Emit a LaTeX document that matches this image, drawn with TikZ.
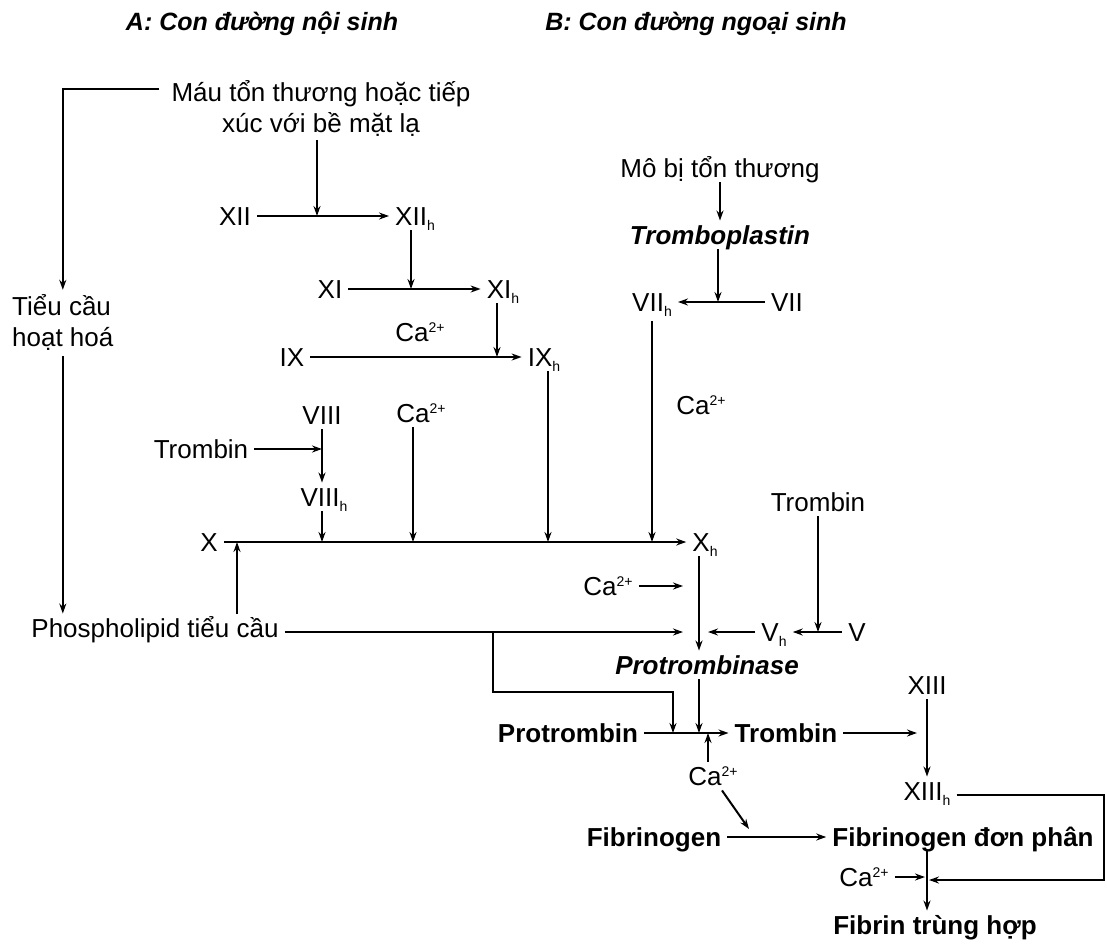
\documentclass[tikz,border=0pt]{standalone}
\usepackage{fontspec}
\setmainfont{Liberation Sans}
\usetikzlibrary{arrows.meta,calc}
\newcommand\fs{\fontsize{26}{31}\selectfont}
\newcommand\sbh{\raisebox{-5pt}{\fontsize{14}{14}\selectfont h}}
\newcommand\CaT{Ca\raisebox{9pt}{\fontsize{14}{14}\selectfont 2+}}
\begin{document}
\begin{tikzpicture}[x=1pt,y=-1pt,
  lb/.style={inner xsep=6pt, inner ysep=5pt, text height=18.5pt, text depth=0pt, font=\fs},
  bd/.style={font=\fs\bfseries},
  bi/.style={font=\fs\bfseries\itshape},
  tt/.style={inner sep=0pt, font=\fontsize{25}{30}\selectfont\bfseries\itshape},
  ml/.style={inner sep=0pt, font=\fs},
  arr/.style={-{Stealth[length=10pt,width=7pt]}, line width=2pt}]
\useasboundingbox (0,0) rectangle (1107,947);
\fill[white] (0,0) rectangle (1107,947);
% titles
\node[tt] (tA) at (262,24) {A: Con đường nội sinh};
\node[tt] (tB) at (696,24) {B: Con đường ngoại sinh};
% nodes
\node[ml, align=center] (mau) at (321,108) {Máu tổn thương hoặc tiếp\\xúc với bề mặt lạ};
\node[ml, align=left, anchor=west] (tc) at (12,322) {Tiểu cầu\\hoạt hoá};
\node[lb] (XII) at (235,216) {XII};
\node[lb] (XIIh) at (415,216) {XII\sbh};
\node[lb] (XI) at (330,289) {XI};
\node[lb] (XIh) at (503,289) {XI\sbh};
\node[lb] (ca1) at (420,332) {\CaT};
\node[lb] (IX) at (292,357) {IX};
\node[lb] (IXh) at (544,357) {IX\sbh};
\node[lb] (mo) at (720,168) {Mô bị tổn thương};
\node[lb, bi] (tp) at (720,235) {Tromboplastin};
\node[lb] (VIIh) at (652,302) {VII\sbh};
\node[lb] (VII) at (787,302) {VII};
\node[lb] (ca2) at (701,405) {\CaT};
\node[lb] (VIII) at (322,415) {VIII};
\node[lb] (tr1) at (201,449) {Trombin};
\node[lb] (VIIIh) at (324,497) {VIII\sbh};
\node[lb] (ca3) at (421,413) {\CaT};
\node[lb] (X) at (209,542) {X};
\node[lb] (Xh) at (705,542) {X\sbh};
\node[lb] (tr2) at (818,502) {Trombin};
\node[lb] (ca4) at (608,586) {\CaT};
\node[lb] (phos) at (155,628) {Phospholipid tiểu cầu};
\node[lb] (Vh) at (774,632) {V\sbh};
\node[lb] (V) at (857,632) {V};
\node[lb, bi] (prb) at (707,665) {Protrombinase};
\node[lb, bd] (ptb) at (568,733) {Protrombin};
\node[lb, bd] (tr3) at (786,733) {Trombin};
\node[lb] (XIII) at (927,685) {XIII};
\node[lb] (ca5) at (713,776) {\CaT};
\node[lb] (XIIIh) at (927,791) {XIII\sbh};
\node[lb, bd] (fg) at (654,837) {Fibrinogen};
\node[lb, bd] (fdp) at (963,837) {Fibrinogen đơn phân};
\node[lb] (ca6) at (864,877) {\CaT};
\node[lb, bd] (fib) at (935,925) {Fibrin trùng hợp};
% junctions
\coordinate (j1) at (317,216);
\coordinate (j2) at (411,289);
\coordinate (j3) at (497,357);
\coordinate (j4) at (718,302);
\coordinate (j5) at (652,542);
\coordinate (j6) at (548,542);
\coordinate (j7) at (237,542);
\coordinate (j8) at (322,449);
\coordinate (j9) at (322,542);
\coordinate (j10) at (413,542);
\coordinate (j11) at (699,632);
\coordinate (j12) at (493,632);
\coordinate (br) at (673,692);
\coordinate (j13) at (673,733);
\coordinate (j14) at (818,632);
\coordinate (j16) at (708,733);
\coordinate (j17) at (925,733);
\coordinate (j18) at (749,829);
\coordinate (c1) at (1104,880);
\coordinate (j19) at (927,880);
% connectors
\draw[arr, shorten >=4pt] ($(mau.west)+(-12,-19)$) -| (tc.north);
\draw[arr, shorten <=6pt] (tc.south) -- (tc.south |- phos.north);
\draw[arr] ($(mau.south -| j1)+(0,4)$) -- (j1);
\draw[arr] (XII) -- (XIIh);
\draw[arr] (XIIh.south -| j2) -- (j2);
\draw[arr] (XI) -- (XIh);
\draw[arr] (XIh.south -| j3) -- (j3);
\draw[arr] (IX) -- (IXh);
\draw[arr] (mo) -- (tp);
\draw[arr] (tp.south -| j4) -- (j4);
\draw[arr] (VII) -- (VIIh);
\draw[arr, shorten <=5pt] (VIIh.south -| j5) -- (j5);
\draw[arr] (IXh.south -| j6) -- (j6);
\draw[arr] (X) -- (Xh);
\draw[arr] (phos.north -| j7) -- (j7);
\draw[arr] (tr1) -- (tr1 -| j8);
\draw[arr] (VIII.south) -- (VIII.south |- VIIIh.north);
\draw[arr] (VIIIh.south -| j9) -- (j9);
\draw[arr] (ca3.south -| j10) -- (j10);
\draw[arr] (Xh.south -| j11) -- (prb.north -| j11);
\draw[arr, shorten >=16pt] (ca4) -- (ca4 -| j11);
\draw[arr, shorten >=16pt] (phos.east |- j11) -- (j11);
\draw[arr] (j12) |- (br) -- (j13);
\draw[arr] (V) -- (Vh);
\draw[arr] (tr2.south -| j14) -- (j14);
\draw[arr, shorten >=9pt] (Vh) -- (Vh -| j11);
\draw[arr] (prb.south -| j11) -- (j11 |- ptb);
\draw[arr] (ptb) -- (tr3);
\draw[arr] (ca5.north -| j16) -- (j16);
\draw[arr, shorten >=8pt] (tr3) -- (tr3 -| j17);
\draw[arr] (XIII) -- (XIIIh);
\draw[arr] ($(ca5.south)+(9,0)$) -- (j18);
\draw[arr] (fg) -- (fdp);
\draw[arr, shorten >=2pt] ($(XIIIh.east)+(0,4)$) -| (c1) -- (j19);
\draw[arr, shorten >=2pt] (ca6) -- (ca6 -| j19);
\draw[arr] (fdp.south -| j19) -- (fib.north -| j19);
\end{tikzpicture}
\end{document}
